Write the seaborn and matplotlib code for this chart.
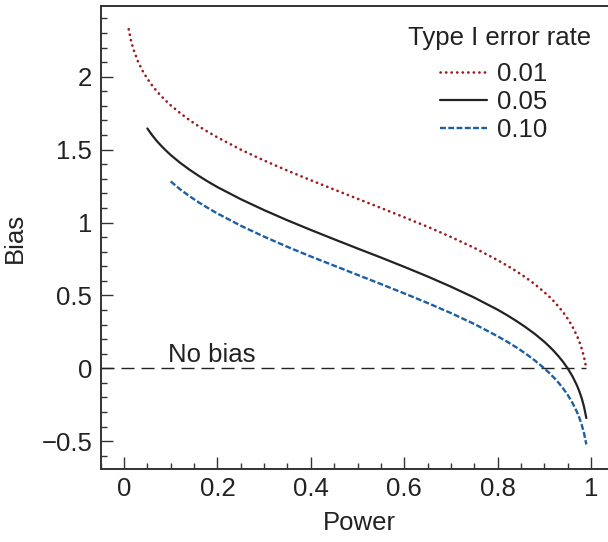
import numpy as np
import pandas as pd
import matplotlib
matplotlib.use("Agg")
import matplotlib.pyplot as plt
from matplotlib.ticker import MultipleLocator, FuncFormatter
import seaborn as sns

# Bias, one series per type I error rate
power_001 = [0.01, 0.015, 0.02, 0.03, 0.04, 0.05, 0.06, 0.07, 0.08, 0.09, 0.10, 0.12, 0.14, 0.16,
             0.18, 0.20, 0.25, 0.30, 0.35, 0.40, 0.45, 0.50, 0.55, 0.60, 0.65, 0.70, 0.75, 0.80,
             0.82, 0.84, 0.86, 0.88, 0.90, 0.91, 0.92, 0.93, 0.94, 0.95, 0.96, 0.97, 0.975,
             0.98, 0.985, 0.99]
bias_001 = [2.326, 2.248, 2.190, 2.104, 2.039, 1.986, 1.941, 1.901, 1.866, 1.834, 1.804, 1.751,
            1.703, 1.660, 1.621, 1.584, 1.500, 1.425, 1.356, 1.290, 1.226, 1.163, 1.100, 1.036,
            0.971, 0.901, 0.826, 0.742, 0.705, 0.666, 0.623, 0.576, 0.522, 0.493, 0.461, 0.425,
            0.386, 0.341, 0.288, 0.223, 0.183, 0.136, 0.078, 0.000]

power_005 = [0.05, 0.06, 0.07, 0.08, 0.09, 0.10, 0.12, 0.14, 0.16, 0.18, 0.20, 0.25, 0.30, 0.35,
             0.40, 0.45, 0.50, 0.55, 0.60, 0.65, 0.70, 0.75, 0.80, 0.82, 0.84, 0.86, 0.88, 0.90,
             0.91, 0.92, 0.93, 0.94, 0.95, 0.96, 0.97, 0.975, 0.98, 0.985, 0.99]
bias_005 = [1.645, 1.600, 1.560, 1.525, 1.493, 1.463, 1.410, 1.363, 1.320, 1.280, 1.243, 1.160,
            1.085, 1.015, 0.949, 0.885, 0.822, 0.760, 0.696, 0.630, 0.560, 0.485, 0.402, 0.365,
            0.325, 0.282, 0.235, 0.182, 0.152, 0.120, 0.084, 0.045, 0.000, -0.053, -0.118,
            -0.158, -0.204, -0.263, -0.341]

power_010 = [0.10, 0.12, 0.14, 0.16, 0.18, 0.20, 0.25, 0.30, 0.35, 0.40, 0.45, 0.50, 0.55, 0.60,
             0.65, 0.70, 0.75, 0.80, 0.82, 0.84, 0.86, 0.88, 0.90, 0.91, 0.92, 0.93, 0.94, 0.95,
             0.96, 0.97, 0.975, 0.98, 0.985, 0.99]
bias_010 = [1.282, 1.228, 1.181, 1.138, 1.099, 1.062, 0.978, 0.903, 0.833, 0.767, 0.704, 0.641,
            0.578, 0.514, 0.448, 0.379, 0.304, 0.220, 0.183, 0.144, 0.101, 0.053, 0.000, -0.030,
            -0.062, -0.097, -0.137, -0.182, -0.235, -0.300, -0.339, -0.386, -0.444, -0.522]

rates = ["0.01", "0.05", "0.10"]
colors = {"0.01": "#9c1c22", "0.05": "#222222", "0.10": "#1c5fa3"}
dashes = {"0.01": (0.1, 2.0), "0.05": "", "0.10": (2.5, 1.0)}

df = pd.concat([
    pd.DataFrame({"Power": power_001, "Bias": bias_001, "rate": "0.01"}),
    pd.DataFrame({"Power": power_005, "Bias": bias_005, "rate": "0.05"}),
    pd.DataFrame({"Power": power_010, "Bias": bias_010, "rate": "0.10"}),
])

sns.set_theme(style="ticks")
plt.rcParams["font.family"] = ["Liberation Sans", "DejaVu Sans"]
plt.rcParams["axes.unicode_minus"] = True
FS = 18.5
INK = "#222222"

fig = plt.figure(figsize=(6.08, 5.42), dpi=100)
# axes runs off the right edge like the reference crop
ax = fig.add_axes([100.65 / 608, (542 - 468.9) / 542, 513.7 / 608, 462.9 / 542])

sns.lineplot(data=df, x="Power", y="Bias", hue="rate", style="rate", hue_order=rates,
             style_order=rates, palette=colors, dashes=dashes, linewidth=1.6,
             estimator=None, sort=False, legend=False, ax=ax)

for line, rate in zip(ax.lines, rates):
    if rate == "0.01":
        line.set_dash_capstyle("round")
        line.set_linewidth(1.9)
    if rate == "0.10":
        line.set_linewidth(1.7)

ax.set_xlim(-0.05, 1.05)
ax.set_ylim(-0.69, 2.485)

# no-bias reference line
ax.hlines(0, ax.get_xlim()[0], 0.99, color=INK, linewidth=1.0,
          linestyles=(0, (9.4, 5.0)), zorder=1)
ax.text(0.094, 0.045, "No bias", fontsize=FS, color=INK, ha="left", va="baseline")

ax.xaxis.set_major_locator(MultipleLocator(0.2))
ax.xaxis.set_minor_locator(MultipleLocator(0.05))
ax.yaxis.set_major_locator(MultipleLocator(0.5))
ax.yaxis.set_minor_locator(MultipleLocator(0.1))
fmt = FuncFormatter(lambda v, _: f"{v:g}".replace("-", "\u2212"))
ax.xaxis.set_major_formatter(fmt)
ax.yaxis.set_major_formatter(fmt)
ax.tick_params(which="both", direction="in", color="#333333", width=1.0,
               labelsize=FS, labelcolor=INK, pad=6)
ax.tick_params(which="major", length=8.6)
ax.tick_params(which="minor", length=4.3)

for side in ["left", "bottom", "top", "right"]:
    ax.spines[side].set_color("#333333")
    ax.spines[side].set_linewidth(1.4)

ax.set_xlabel("Power", fontsize=FS, color=INK)
ax.set_ylabel("Bias", fontsize=FS, color=INK)
ax.xaxis.set_label_coords(0.503, -0.091)
ax.yaxis.set_label_coords(-0.1434, 0.5)

fig.text(408 / 608, 1 - 45 / 542, "Type I error rate", fontsize=FS, color=INK,
         ha="left", va="baseline")
leg = ax.legend(handles=ax.lines[:3], labels=rates, loc="upper left",
                bbox_to_anchor=(440 / 608, 1 - 62 / 542), bbox_transform=fig.transFigure,
                frameon=False, fontsize=FS, handlelength=1.83, handletextpad=0.39,
                labelspacing=0.155, borderpad=0, borderaxespad=0)
for t in leg.get_texts():
    t.set_color(INK)

fig.savefig("out.png", dpi=100)
